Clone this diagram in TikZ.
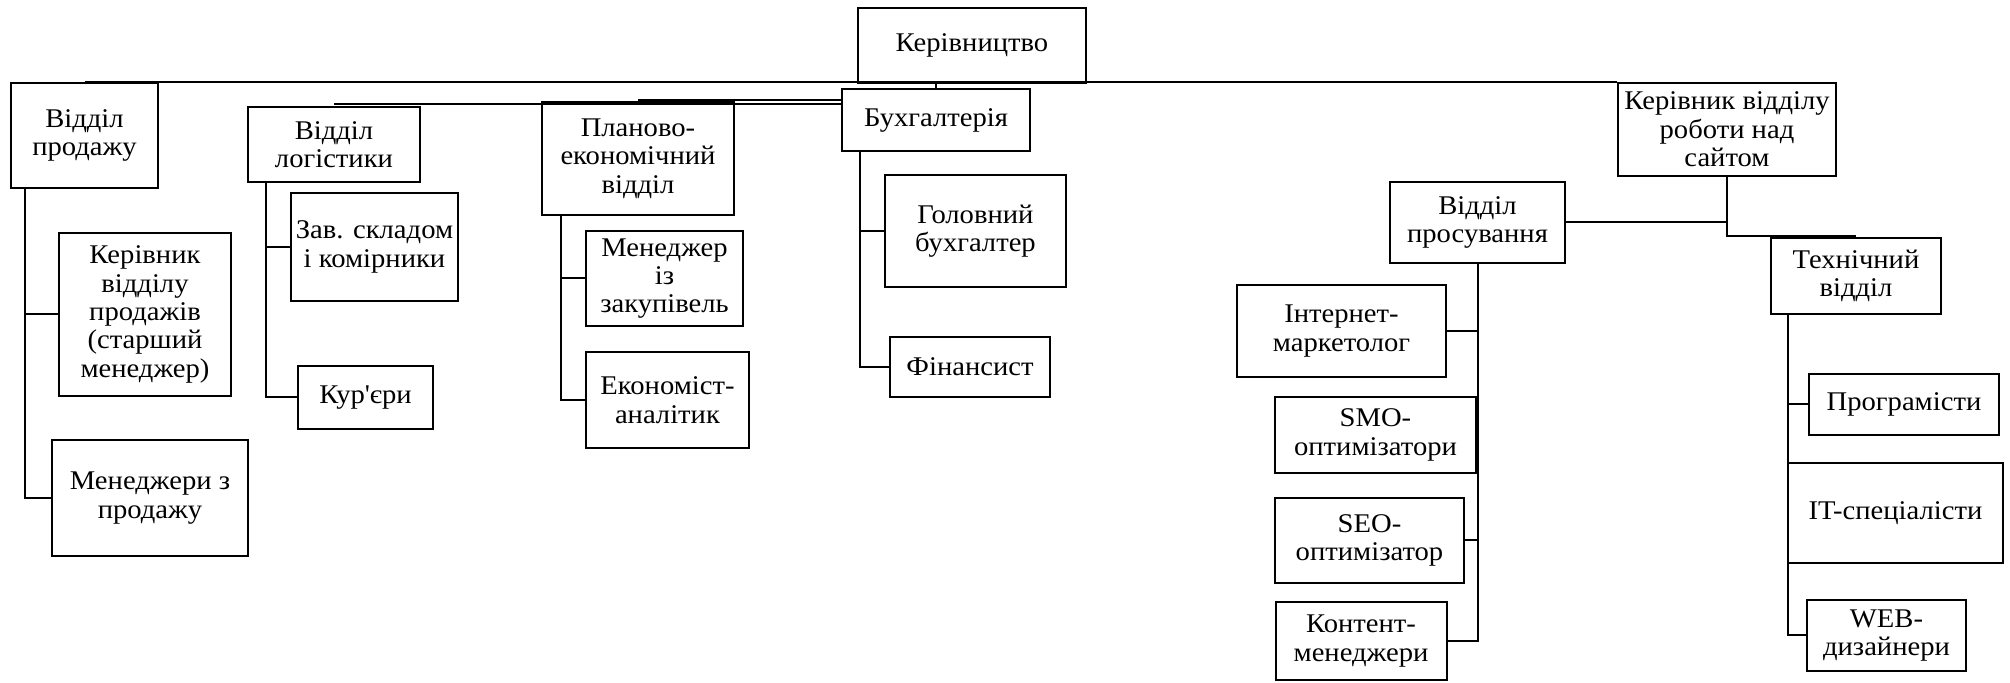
\documentclass[tikz,border=0pt]{standalone}
\usepackage{fontspec}
\setmainfont{Liberation Serif}[FakeStretch=1.06]
\usetikzlibrary{positioning,calc}

\begin{document}
\begin{tikzpicture}[x=0.5pt,y=-0.5pt,
      box/.style={draw,line width=1pt,align=center,inner sep=0pt,
        font=\fontsize{13.5}{14.2}\selectfont},
      sz/.style 2 args={minimum width=#1*0.5pt,minimum height=#2*0.5pt},
      link/.style={draw,line width=1pt}]
    \useasboundingbox (0,0) rectangle (2010,683);
    % top level
    \node[box,sz={228}{75}] (kerivn) at (972,45.5) {Керівництво};
    \node[box,sz={147}{105}] (sales) at (84.5,135.5) {Відділ\\продажу};
    \node[box,sz={172}{75}] (logist) at (334,144.5) {Відділ\\логістики};
    \node[box,sz={192}{113}] (plan) at (638,158.5) {Планово-\\економічний\\відділ};
    \node[box,sz={188}{62}] (buh) at (936,120) {Бухгалтерія};
    \node[box,sz={218}{93}] (ksait) at (1727,129.5) {Керівник відділу\\роботи над\\сайтом};
    % sales and logistics
    \node[box,sz={172}{163}] (ksales) at (145,314.5) {Керівник\\відділу\\продажів\\(старший\\менеджер)};
    \node[box,sz={196}{116}] (msales) at (150,498) {Менеджери з\\продажу};
    \node[box,sz={167}{108}] (zav) at (374.5,247) {Зав. складом\\і комірники};
    \node[box,sz={135}{63}] (kur) at (365.5,397.5) {Кур\textquotesingle єри};
    % planning and accounting
    \node[box,sz={157}{95}] (mzak) at (664.5,278.5) {Менеджер\\із\\закупівель};
    \node[box,sz={163}{96}] (econ) at (667.5,400) {Економіст-\\аналітик};
    \node[box,sz={181}{112}] (gbuh) at (975.5,231) {Головний\\бухгалтер};
    \node[box,sz={160}{60}] (fin) at (970,367) {Фінансист};
    % web
    \node[box,sz={175}{81}] (prosuv) at (1477.5,222.5) {Відділ\\просування};
    \node[box,sz={170}{76}] (tech) at (1856,276) {Технічний\\відділ};
    \node[box,sz={209}{92}] (inet) at (1341.5,331) {Інтернет-\\маркетолог};
    \node[box,sz={201}{76}] (smo) at (1375.5,435) {SMO-\\оптимізатори};
    \node[box,sz={189}{85}] (seo) at (1369.5,540.5) {SEO-\\оптимізатор};
    \node[box,sz={171}{78}] (kont) at (1361,641) {Контент-\\менеджери};
    \node[box,sz={190}{61}] (prog) at (1904,404.5) {Програмісти};
    \node[box,sz={215}{100}] (itsp) at (1895.5,513) {IT-спеціалісти};
    \node[box,sz={159}{71}] (web) at (1886.5,635.5) {WEB-\\дизайнери};

    % trunk lines
    \draw[link] (sales.north) -- (ksait.north west);
    \draw[link] (buh.north) -- (buh.north |- sales.north);
    \draw[link] ([yshift=1.2pt]logist.north) -- ([yshift=1.2pt]logist.north -| buh.west);
    \draw[link] ([yshift=0.7pt]plan.north) -- ([yshift=0.7pt]plan.north -| buh.west);
    \draw[link] (ksait.south) |- ([yshift=0.5pt]tech.north);
    \draw[link] (prosuv.east) -- (prosuv.east -| ksait.south);

    % branches
    \coordinate (sv) at ($(sales.south west)+(15,0)$);
    \draw[link] (sv) |- (msales.west);
    \draw[link] (ksales.west) -- (ksales.west -| sv);
    \coordinate (lv) at ($(logist.south west)+(18.5,0)$);
    \draw[link] (lv) |- (kur.west);
    \draw[link] (zav.west) -- (zav.west -| lv);
    \coordinate (pv) at ($(plan.south west)+(20,0)$);
    \draw[link] (pv) |- (econ.west);
    \draw[link] (mzak.west) -- (mzak.west -| pv);
    \coordinate (bv) at ($(buh.south west)+(19,0)$);
    \draw[link] (bv) |- (fin.west);
    \draw[link] (gbuh.west) -- (gbuh.west -| bv);
    \draw[link] (prosuv.south) |- (kont.east);
    \foreach \n in {inet,smo,seo}
      \draw[link] (\n.east) -- (\n.east -| prosuv.south);
    \coordinate (tv) at ($(tech.south west)+(18,0)$);
    \draw[link] (tv) |- (web.west);
    \foreach \n in {prog,itsp}
      \draw[link] (\n.west) -- (\n.west -| tv);
  \end{tikzpicture}
\end{document}
